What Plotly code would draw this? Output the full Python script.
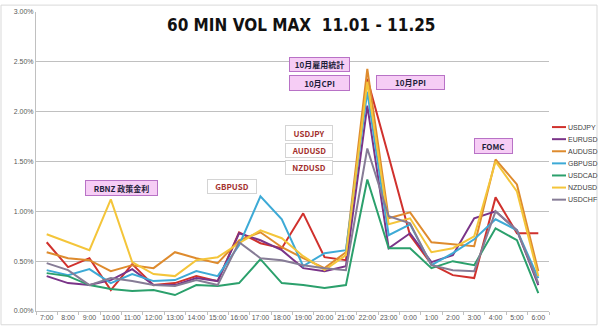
import plotly.graph_objects as go

# Hourly slots (JST) on the category axis
hours = ["7:00", "8:00", "9:00", "10:00", "11:00", "12:00", "13:00", "14:00",
         "15:00", "16:00", "17:00", "18:00", "19:00", "20:00", "21:00", "22:00",
         "23:00", "0:00", "1:00", "2:00", "3:00", "4:00", "5:00", "6:00"]

# Max 60-minute volatility per hour, in percent
usdjpy = [0.69, 0.44, 0.53, 0.21, 0.47, 0.26, 0.28, 0.35, 0.30, 0.79, 0.68, 0.63,
          0.98, 0.54, 0.51, 2.33, 1.55, 0.76, 0.47, 0.36, 0.33, 1.14, 0.78, 0.78]
eurusd = [0.35, 0.28, 0.26, 0.31, 0.42, 0.26, 0.26, 0.33, 0.30, 0.78, 0.71, 0.61,
          0.43, 0.40, 0.45, 2.06, 0.63, 0.78, 0.49, 0.56, 0.93, 1.00, 0.81, 0.26]
audusd = [0.59, 0.53, 0.51, 0.40, 0.46, 0.43, 0.59, 0.53, 0.48, 0.71, 0.79, 0.64,
          0.53, 0.43, 0.59, 2.43, 0.93, 0.99, 0.69, 0.67, 0.65, 1.52, 1.27, 0.40]
gbpusd = [0.41, 0.36, 0.42, 0.28, 0.37, 0.30, 0.31, 0.40, 0.35, 0.66, 1.15, 0.92,
          0.45, 0.58, 0.61, 2.20, 0.76, 0.87, 0.46, 0.58, 0.72, 0.92, 0.81, 0.33]
usdcad = [0.38, 0.35, 0.26, 0.22, 0.20, 0.21, 0.16, 0.26, 0.25, 0.28, 0.52, 0.28,
          0.26, 0.23, 0.26, 1.32, 0.63, 0.63, 0.43, 0.50, 0.46, 0.83, 0.71, 0.18]
nzdusd = [0.77, 0.69, 0.61, 1.12, 0.49, 0.37, 0.35, 0.51, 0.54, 0.68, 0.81, 0.73,
          0.55, 0.41, 0.56, 2.30, 0.87, 0.93, 0.59, 0.63, 0.75, 1.50, 1.20, 0.35]
usdchf = [0.48, 0.41, 0.26, 0.33, 0.30, 0.26, 0.25, 0.31, 0.26, 0.69, 0.53, 0.51,
          0.46, 0.43, 0.41, 1.63, 0.95, 0.88, 0.46, 0.41, 0.40, 1.00, 0.81, 0.28]

pair_names = ["USDJPY", "EURUSD", "AUDUSD", "GBPUSD", "USDCAD", "NZDUSD", "USDCHF"]
pair_values = [usdjpy, eurusd, audusd, gbpusd, usdcad, nzdusd, usdchf]
pair_colors = ["#D0312D", "#7A3488", "#DE8B2E", "#3DAAD6", "#2BA06C", "#F4C53A", "#867C96"]

y_ticks = [0.0, 0.5, 1.0, 1.5, 2.0, 2.5, 3.0]

W, H = 600, 329
L, R, T, B = 36, 51, 8, 17
PW, PH = W - L - R, H - T - B


def px(x):
    return (x - L) / PW


def py(y):
    return (H - B - y) / PH


fig = go.Figure()
for name, vals, col in zip(pair_names, pair_values, pair_colors):
    fig.add_trace(go.Scatter(x=hours, y=vals, mode="lines", name=name,
                             line=dict(color=col, width=2), showlegend=False))

grid = "#C0C0C0"
tick_font = dict(family="Liberation Sans, Arial, sans-serif", size=7, color="#595959")

fig.update_layout(
    width=W, height=H, autosize=False,
    margin=dict(l=L, r=R, t=T, b=B, pad=0),
    paper_bgcolor="white", plot_bgcolor="white",
    xaxis=dict(type="category", range=[-0.5, len(hours) - 0.5],
               showgrid=False, showline=True, linecolor=grid, linewidth=1,
               ticks="outside", ticklen=3, tickcolor=grid, tickson="boundaries",
               tickangle=0, tickfont=tick_font, fixedrange=True),
    yaxis=dict(range=[0, 3.0], tickvals=y_ticks,
               ticktext=[f"{v:.2f}%" for v in y_ticks],
               showgrid=True, gridcolor=grid, gridwidth=1,
               showline=True, linecolor=grid, linewidth=1,
               zeroline=False, ticks="", tickfont=tick_font, fixedrange=True),
)

# Chart title
fig.add_annotation(xref="paper", yref="paper", x=px(301), y=py(21),
                   text="<b>60 MIN VOL MAX  11.01 - 11.25</b>", showarrow=False,
                   font=dict(family="DejaVu Sans Condensed, DejaVu Sans, sans-serif",
                             size=17, color="#111111"),
                   xanchor="center", yanchor="middle")

# Event call-outs (pink) and pair call-outs (white)
pink_boxes = [
    ("RBNZ 政策金利", 121.5, 187, 71, 14),
    ("10月雇用統計", 319.5, 61.5, 59, 13),
    ("10月CPI", 319.5, 80, 59, 14),
    ("10月PPI", 410.5, 79.5, 67, 13),
    ("FOMC", 493.5, 144, 37, 14),
]
white_boxes = [
    ("GBPUSD", 232, 185.5, 48, 13),
    ("USDJPY", 309, 131, 46, 14),
    ("AUDUSD", 309, 148.5, 46, 13),
    ("NZDUSD", 309, 166.5, 46, 13),
]
box_font = "Noto Sans CJK JP, Noto Sans, sans-serif"
for text, cx, cy, w, h in pink_boxes:
    fig.add_annotation(xref="paper", yref="paper", x=px(cx), y=py(cy),
                       text=f"<b>{text}</b>", showarrow=False,
                       xanchor="center", yanchor="middle",
                       width=w, height=h, borderpad=0, borderwidth=1,
                       bgcolor="#F6CDF5", bordercolor="#B872C6",
                       font=dict(family=box_font, size=8, color="#1F1F3A"))
for text, cx, cy, w, h in white_boxes:
    fig.add_annotation(xref="paper", yref="paper", x=px(cx), y=py(cy),
                       text=f"<b>{text}</b>", showarrow=False,
                       xanchor="center", yanchor="middle",
                       width=w, height=h, borderpad=0, borderwidth=1,
                       bgcolor="white", bordercolor="#D4D4D4",
                       font=dict(family=box_font, size=8, color="#A3302E"))

# Legend drawn as short line samples with labels
for k, (name, col) in enumerate(zip(pair_names, pair_colors)):
    ly = 125 + 12.3 * k
    fig.add_shape(type="line", xref="paper", yref="paper",
                  x0=px(552), x1=px(566), y0=py(ly), y1=py(ly),
                  line=dict(color=col, width=2))
    fig.add_annotation(xref="paper", yref="paper", x=px(566), y=py(ly),
                       text=name, showarrow=False, xanchor="left", yanchor="middle",
                       font=dict(family="Liberation Sans, Arial, sans-serif",
                                 size=7, color="#404040"))

# Outer chart frame
fig.add_shape(type="rect", xref="paper", yref="paper",
              x0=px(1), x1=px(597), y0=py(326), y1=py(1),
              line=dict(color="#D9D9D9", width=1), layer="below")

fig.write_html("out.html")
